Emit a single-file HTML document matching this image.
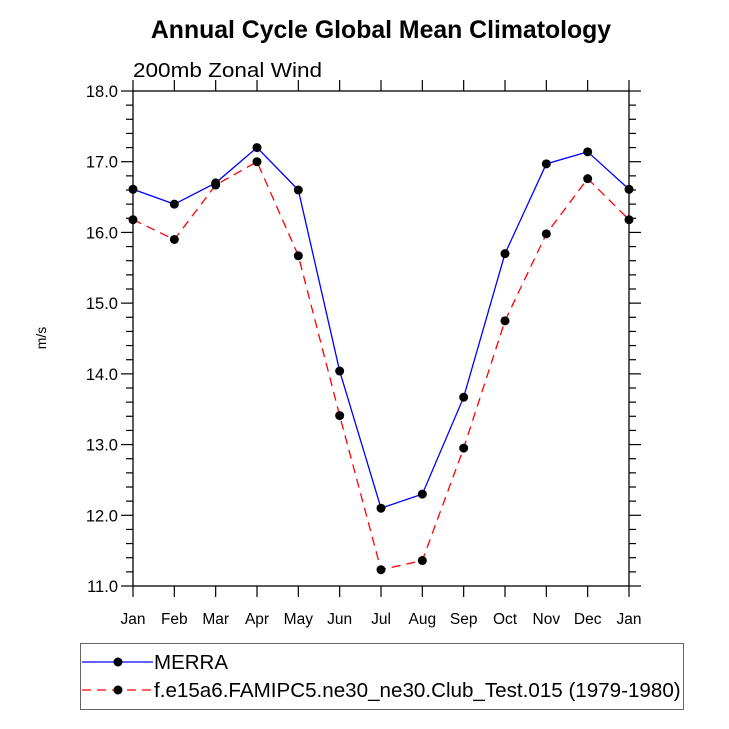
<!DOCTYPE html>
<html><head><meta charset="utf-8"><style>body{margin:0;background:#fff}svg{display:block;font-family:"Liberation Sans",Helvetica,Arial,sans-serif}</style></head>
<body>
<svg id="c" width="729" height="729" viewBox="0 0 729 729">
<text x="381" y="38" text-anchor="middle" font-size="24.8" font-weight="bold">Annual Cycle Global Mean Climatology</text>
<text x="133" y="77" font-size="20.5" textLength="189" lengthAdjust="spacingAndGlyphs">200mb Zonal Wind</text>
<text transform="translate(46,338) rotate(-90)" text-anchor="middle" font-size="14">m/s</text>
<g id="axes"></g>
<g id="series"></g>
<rect x="80.5" y="643.5" width="603" height="66" fill="none" stroke="#666" stroke-width="1"/>
<g>
<line x1="82" y1="662" x2="153" y2="662" stroke="#00f" stroke-width="1.3"/>
<circle cx="118" cy="662" r="4.5" fill="#000"/>
<text x="154" y="669" font-size="20.5">MERRA</text></g>
<g>
<line x1="82" y1="690" x2="153" y2="690" stroke="#f00" stroke-width="1.3" stroke-dasharray="9,6"/>
<circle cx="118" cy="690" r="4.5" fill="#000"/>
<text x="154" y="697" font-size="20.6">f.e15a6.FAMIPC5.ne30_ne30.Club_Test.015 (1979-1980)</text></g>
</svg>
<script>
const months=["Jan","Feb","Mar","Apr","May","Jun","Jul","Aug","Sep","Oct","Nov","Dec","Jan"];
const merra=[16.61,16.40,16.70,17.20,16.60,14.04,12.10,12.30,13.67,15.70,16.97,17.14,16.61];
const model=[16.18,15.90,16.67,17.00,15.67,13.41,11.23,11.36,12.95,14.75,15.98,16.76,16.18];
const yTicks=[11,12,13,14,15,16,17,18];
const yTickLabels=["11.0","12.0","13.0","14.0","15.0","16.0","17.0","18.0"];
const NS="http://www.w3.org/2000/svg";
const X0=133,X1=629,Y0=586,Y1=91,ymin=11,ymax=18;
const xs=i=>X0+(X1-X0)*i/(months.length-1);
const ys=v=>Y0-(Y0-Y1)*(v-ymin)/(ymax-ymin);
function mk(t,a,p){const e=document.createElementNS(NS,t);for(const k in a)e.setAttribute(k,a[k]);p.appendChild(e);return e;}
const ax=document.getElementById('axes');
const frame=mk('rect',{x:X0,y:Y1,width:X1-X0,height:Y0-Y1,fill:'none',stroke:'#000','stroke-width':1.3},ax);


for(let v=ymin;v<=ymax+1e-9;v+=0.2){const y=ys(v);const maj=Math.abs(v-Math.round(v))<1e-6;const L=maj?12:7;
mk('line',{x1:X0-L,y1:y,x2:X0,y2:y,stroke:'#000','stroke-width':1.2},ax);
mk('line',{x1:X1,y1:y,x2:X1+L,y2:y,stroke:'#000','stroke-width':1.2},ax);}
yTicks.forEach((v,i)=>{const t=mk('text',{x:X0-15,y:ys(v)+6,'text-anchor':'end','font-size':16.5},ax);t.textContent=yTickLabels[i];

});
months.forEach((m,i)=>{const x=xs(i);
mk('line',{x1:x,y1:Y0,x2:x,y2:Y0+11,stroke:'#000','stroke-width':1.2},ax);
mk('line',{x1:x,y1:Y1-11,x2:x,y2:Y1,stroke:'#000','stroke-width':1.2},ax);
const t=mk('text',{x:x,y:Y0+38,'text-anchor':'middle','font-size':15.5},ax);t.textContent=m;

});
const sg=document.getElementById('series');
function draw(vals,color,dash,name){
const g=mk('g',{},sg);


const pts=vals.map((v,i)=>xs(i)+','+ys(v)).join(' ');
const a={points:pts,fill:'none',stroke:color,'stroke-width':1.3};if(dash)a['stroke-dasharray']=dash;
mk('polyline',a,g);
vals.forEach((v,i)=>{const c=mk('circle',{cx:xs(i),cy:ys(v),r:4.5,fill:'#000'},g);

});}
draw(merra,'#00f',null,'series-merra');
draw(model,'#f00','9,6','series-model');
</script>
</body></html>
